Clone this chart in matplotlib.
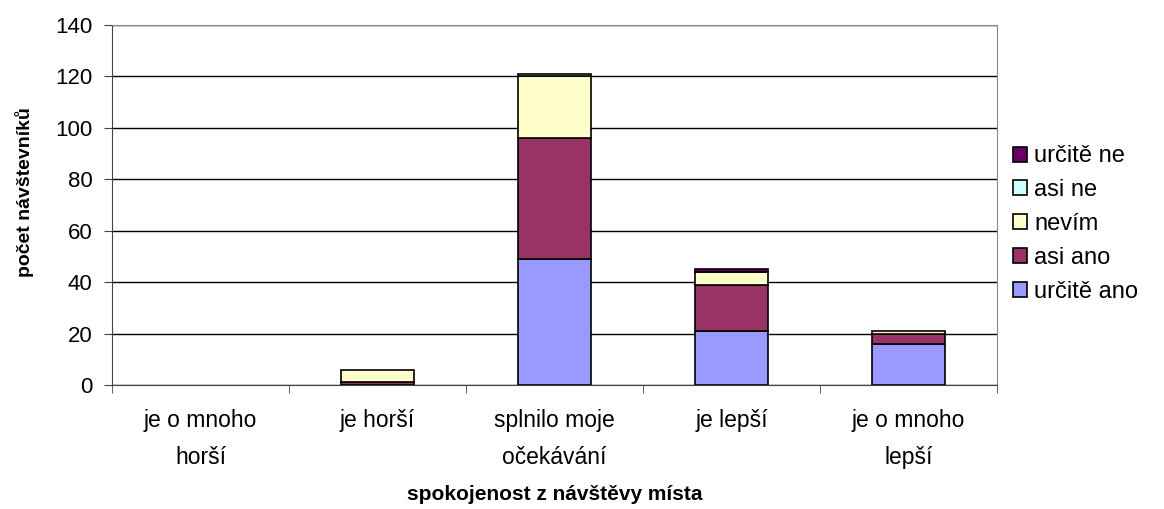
import numpy as np
import matplotlib.pyplot as plt

plt.rcParams['font.family'] = ['Liberation Sans', 'DejaVu Sans']

categories = ['je o mnoho\nhorší', 'je horší', 'splnilo moje\nočekávání', 'je lepší', 'je o mnoho\nlepší']
urcite_ano = [0, 0, 49, 21, 16]
asi_ano = [0, 1, 47, 18, 4]
nevim = [0, 5, 24, 5, 1]
asi_ne = [0, 0, 1, 0, 0]
urcite_ne = [0, 0, 0, 1, 0]

series = [
    ('určitě ano', urcite_ano, '#9999FF'),
    ('asi ano', asi_ano, '#993366'),
    ('nevím', nevim, '#FFFFCC'),
    ('asi ne', asi_ne, '#CCFFFF'),
    ('určitě ne', urcite_ne, '#660066'),
]

fig = plt.figure(figsize=(11.64, 5.09), dpi=100)
ax = fig.add_axes([112 / 1164, 1 - 385 / 509, (997 - 112) / 1164, 360 / 509])

x = np.arange(len(categories))
bottom = np.zeros(len(categories))
handles = []
for name, vals, color in series:
    vals = np.array(vals, dtype=float)
    # zero-height segments get no outline, so they don't show up as a line
    lw = np.where(vals > 0, 1.2, 0)
    b = ax.bar(x, vals, 0.41, bottom=bottom, color=color, edgecolor='black',
               linewidth=lw, label=name, zorder=3)
    handles.append(b)
    bottom += vals

ax.set_ylim(0, 140)
ax.set_xlim(-0.5, len(categories) - 0.5)
ax.set_yticks(range(0, 141, 20))
ax.yaxis.grid(True, color='black', linewidth=1, zorder=0)
ax.set_xticks(x)
ax.set_xticklabels(categories, fontsize=16.5, linespacing=1.8)
ax.set_xticks(np.arange(-0.5, len(categories), 1), minor=True)
ax.tick_params(axis='x', which='major', length=0, pad=17)
ax.tick_params(axis='x', which='minor', length=6, color='#444444')
ax.tick_params(axis='y', labelsize=16, length=6, pad=8, color='#444444')
for s in ['top', 'right']:
    ax.spines[s].set_color('#888888')
for s in ['left', 'bottom']:
    ax.spines[s].set_color('#444444')

ax.set_ylabel('počet návštevníků', fontsize=14, fontweight='bold', va='center')
ax.yaxis.set_label_coords((25 - 112) / 885, 0.535)
ax.set_xlabel('spokojenost z návštěvy místa', fontsize=15, fontweight='bold', va='center')
ax.xaxis.set_label_coords(0.5, (385 - 494) / 360)

leg = ax.legend(handles[::-1], [s[0] for s in series][::-1], loc='center left',
                bbox_to_anchor=(0.994, 0.447), frameon=False, fontsize=17,
                handlelength=0.6, handleheight=0.6, labelspacing=0.5, handletextpad=0.3)
for h in leg.legend_handles:
    h.set_linewidth(1.2)

fig.savefig('out.png', dpi=100)
